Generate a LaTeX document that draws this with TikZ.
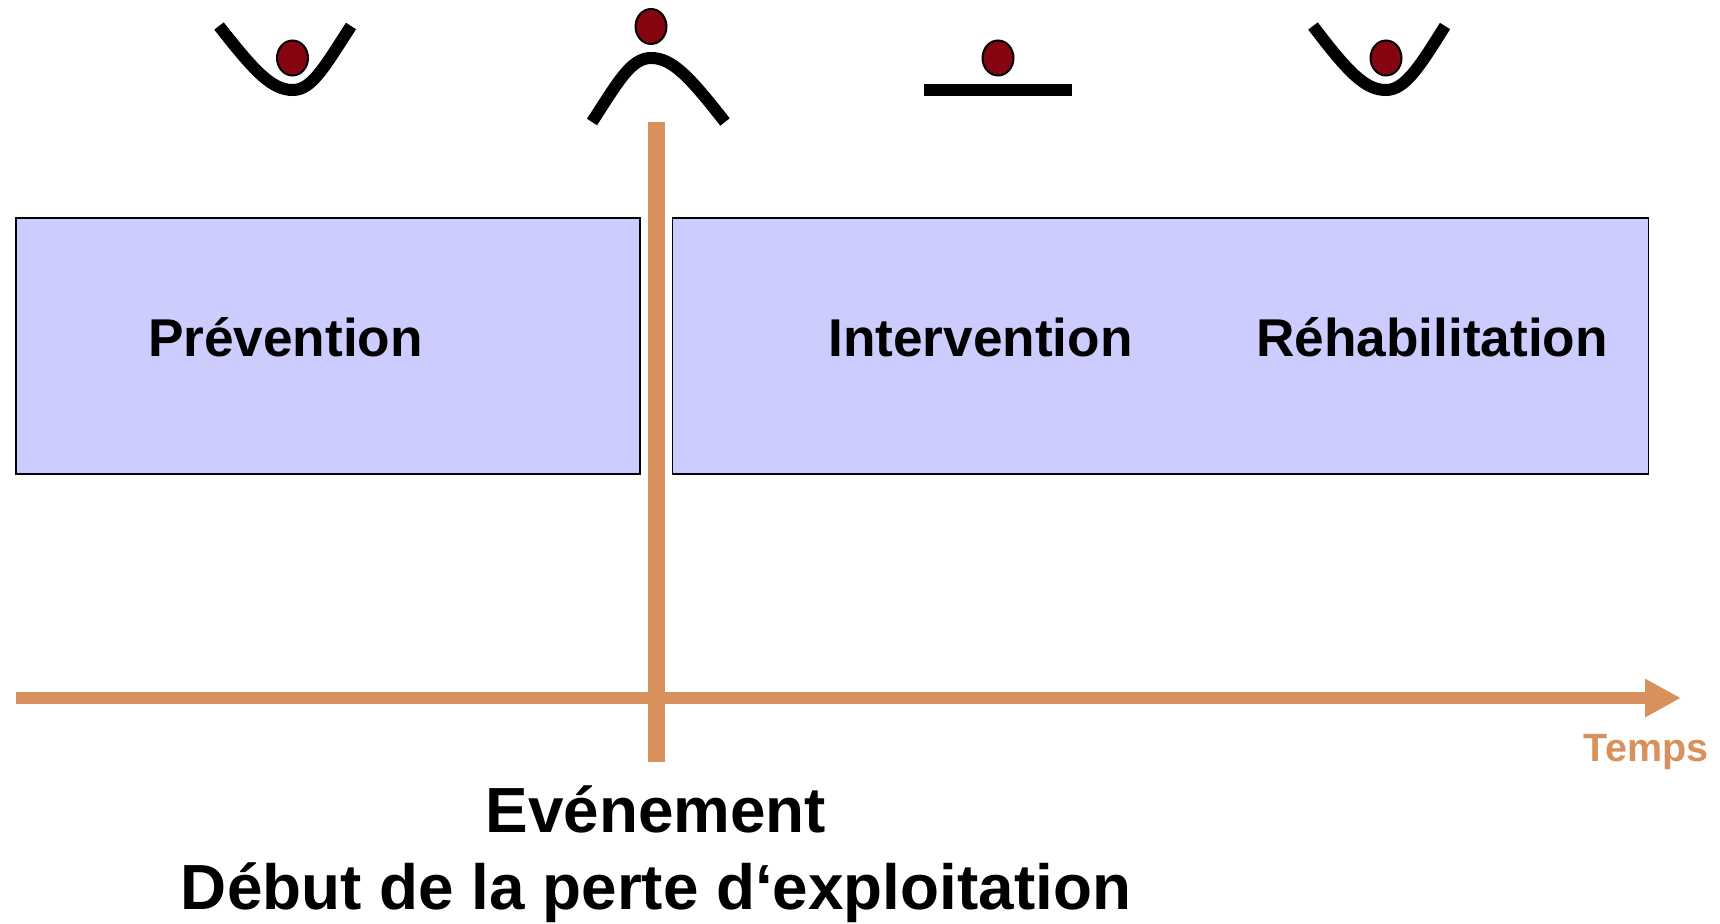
\documentclass[tikz,border=0pt]{standalone}
\usepackage{fontspec}
\setmainfont{Liberation Sans}
\usetikzlibrary{positioning,arrows.meta,shapes.geometric}
\definecolor{boxblue}{HTML}{CCCCFF}
\definecolor{axisorange}{HTML}{D8905C}
\definecolor{ballred}{HTML}{850511}

\begin{document}
\begin{tikzpicture}[
    x=1pt, y=-1pt,
    phase/.style={
        draw, fill=boxblue,
        line width=1.4pt,
        inner sep=0pt
    },
    phaselabel/.style={font=\bfseries\fontsize{53.2}{60}\selectfont, inner sep=0pt, anchor=base},
    ball/.style={
        ellipse, draw, fill=ballred,
        line width=2pt,
        inner sep=0pt,
        minimum width=31pt, minimum height=35pt
    },
    ground/.style={line width=12pt},
    axis/.style={draw=axisorange, line width=12pt},
    axisbar/.style={draw=axisorange, line width=16.5pt}
]
\useasboundingbox (0,0) rectangle (1720,923);

% phases
\node[phase, minimum width=624pt, minimum height=256pt] (before) at (328,346) {};
\node[phase, minimum width=976pt, minimum height=256pt] (after) at (1160.5,346) {};
\node[phaselabel] (prevention) at (285.5,356) {Prévention};
\node[phaselabel] (intervention) at (980.5,356) {Intervention};
\node[phaselabel] (rehabilitation) at (1432,356) {Réhabilitation};

% balls
\node[ball] (ballA) at (292.5,58) {};
\node[ball] (ballB) at (651,26.5) {};
\node[ball] (ballC) at (998,58) {};
\node[ball] (ballD) at (1386,58) {};

% grounds
\draw[ground] (219,26) .. controls (255,72) and (272,90) .. (293,90)
    .. controls (312,90) and (325,66) .. (351,26);
\draw[ground] (592,122) .. controls (618,82) and (631,58) .. (651,58)
    .. controls (672,58) and (689,76) .. (725,122);
\coordinate (flatL) at (924,90);
\coordinate (flatR) at (1072,90);
\draw[line width=12pt] (flatL) -- (flatR);
\draw[ground] (1313,26) .. controls (1348,72) and (1365,90) .. (1386,90)
    .. controls (1405,90) and (1420,66) .. (1445,26);

% time axis
\coordinate (axisstart) at (16,698);
\coordinate (axisend) at (1681,698);
\coordinate (bartop) at (656.5,122);
\coordinate (barbot) at (656.5,762);
\draw[axis, -{Triangle[length=36pt,width=36pt]}] (axisstart) -- (axisend);
\draw[axisbar] (bartop) -- (barbot);

\node[text=axisorange, font=\bfseries\fontsize{39.5}{44}\selectfont, inner sep=0pt, anchor=base] (temps) at (1646,761) {Temps};
\node[font=\bfseries\fontsize{63.8}{77}\selectfont, align=center, inner sep=0pt] (event) at (656,854) {Evénement\\Début de la perte d‘exploitation};
\end{tikzpicture}
\end{document}
